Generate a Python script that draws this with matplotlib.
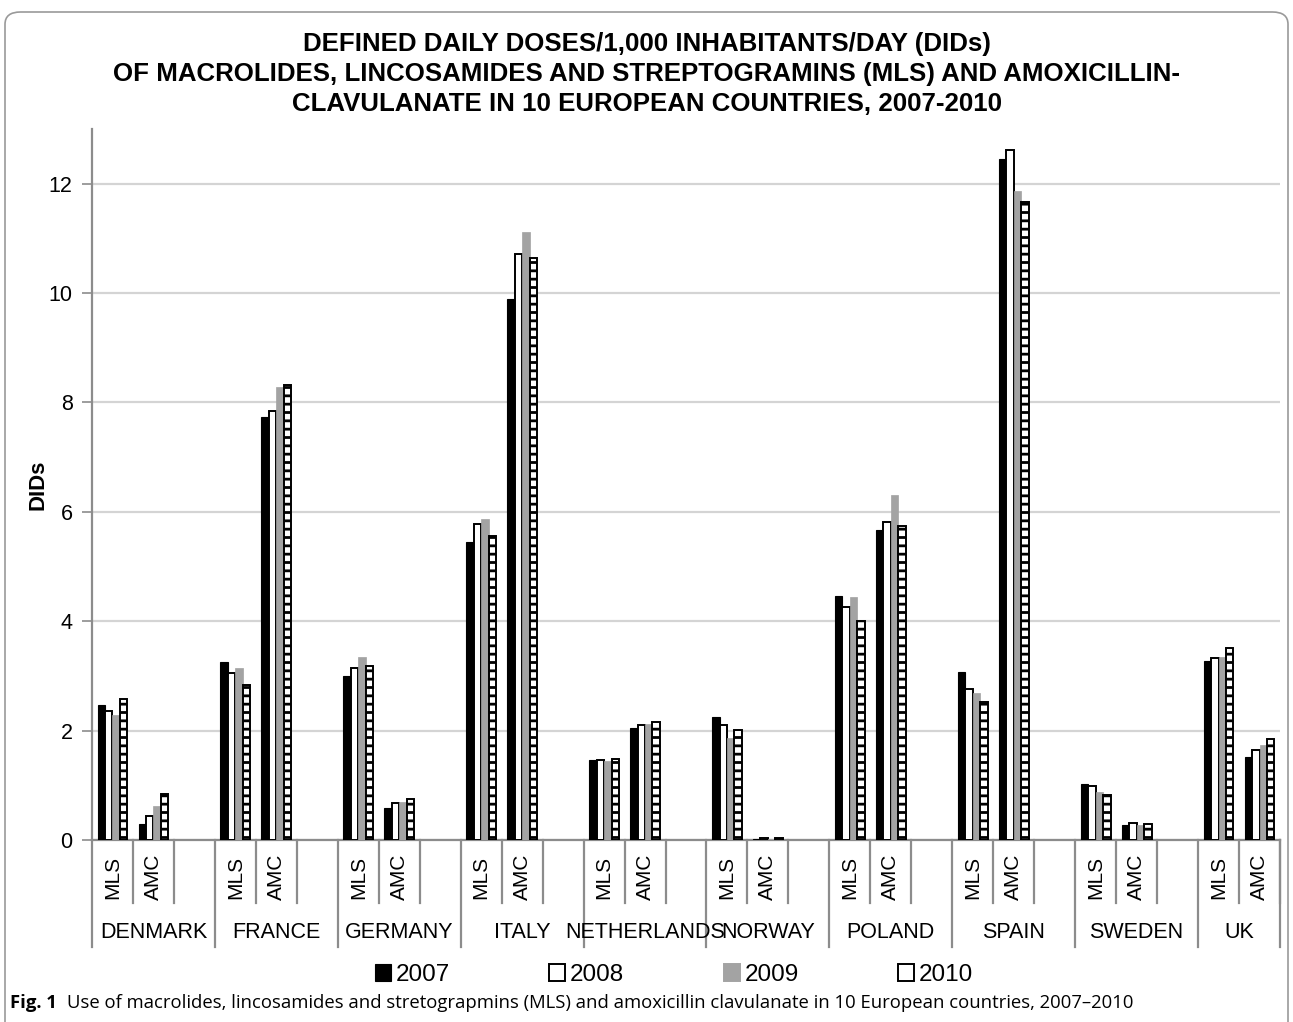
#!/usr/bin/env python3
"""DIDs of MLS and amoxicillin-clavulanate in 10 European countries, 2007-2010."""
import numpy as np
import matplotlib
matplotlib.use('Agg')
import matplotlib.pyplot as plt
from matplotlib.patches import FancyBboxPatch, Patch
import matplotlib.transforms as mtransforms

plt.rcParams['font.family'] = ['Liberation Sans', 'DejaVu Sans']
plt.rcParams['hatch.linewidth'] = 2.0

countries = ['DENMARK', 'FRANCE', 'GERMANY', 'ITALY', 'NETHERLANDS',
             'NORWAY', 'POLAND', 'SPAIN', 'SWEDEN', 'UK']
drugs = ['MLS', 'AMC']
years = ['2007', '2008', '2009', '2010']

# values per year: [MLS, AMC] for each country in order
mls_2007 = [2.47, 3.26, 2.99, 5.44, 1.46, 2.24, 4.47, 3.07, 1.02, 3.28]
mls_2008 = [2.35, 3.05, 3.14, 5.78, 1.46, 2.11, 4.26, 2.76, 0.98, 3.33]
mls_2009 = [2.29, 3.14, 3.35, 5.87, 1.45, 1.86, 4.45, 2.69, 0.87, 3.34]
mls_2010 = [2.58, 2.84, 3.19, 5.55, 1.48, 2.01, 4.01, 2.53, 0.83, 3.51]
amc_2007 = [0.29, 7.74, 0.59, 9.90, 2.05, 0.01, 5.67, 12.46, 0.28, 1.51]
amc_2008 = [0.43, 7.85, 0.67, 10.72, 2.11, 0.03, 5.82, 12.62, 0.31, 1.64]
amc_2009 = [0.62, 8.28, 0.69, 11.11, 2.12, 0.02, 6.31, 11.86, 0.27, 1.73]
amc_2010 = [0.84, 8.32, 0.75, 10.64, 2.16, 0.03, 5.74, 11.66, 0.29, 1.85]

mls = [mls_2007, mls_2008, mls_2009, mls_2010]
amc = [amc_2007, amc_2008, amc_2009, amc_2010]

W, H = 1293, 1022
fig = plt.figure(figsize=(W / 100, H / 100), dpi=100)
ax = fig.add_axes([92 / W, 1 - 840 / H, (1280 - 92) / W, (840 - 129) / H])

styles = [dict(color='black', edgecolor='black', linewidth=0.8),
          dict(color='white', edgecolor='black', linewidth=1.4),
          dict(color='#a3a3a3', edgecolor='#a3a3a3', linewidth=0.5),
          dict(color='white', edgecolor='black', linewidth=1.4, hatch='--')]

nslot = 3 * len(countries) - 1
bw = 0.182
for k in range(4):
    xs, vals = [], []
    for i in range(len(countries)):
        xs += [3 * i, 3 * i + 1]
        vals += [mls[k][i], amc[k][i]]
    ax.bar(np.array(xs) + (k - 1.5) * bw, vals, bw, zorder=3, **styles[k])

ax.set_xlim(-0.5, nslot - 0.5)
ax.set_ylim(0, 13)
ax.set_yticks(range(0, 13, 2))
ax.yaxis.grid(True, color='#d4d4d4', lw=1.6, zorder=0)
ax.tick_params(axis='y', labelsize=15.5, length=7, width=1.2, color='#8c8c8c', pad=7)
ax.set_xticks([])
for s in ['top', 'right']:
    ax.spines[s].set_visible(False)
for s in ['left', 'bottom']:
    ax.spines[s].set_color('#8c8c8c')
    ax.spines[s].set_linewidth(1.6)
ax.set_ylabel('DIDs', fontsize=16, fontweight='bold', labelpad=0)

# two-level category axis
tr = mtransforms.blended_transform_factory(ax.transData, ax.transAxes)
hpx = 840 - 129
short, long_ = 63 / hpx, 107 / hpx
for i, c in enumerate(countries):
    ax.plot([3 * i - 0.5] * 2, [0, -long_], transform=tr, clip_on=False,
            color='#8c8c8c', lw=1.6)
    for j, d in enumerate(drugs):
        ax.text(3 * i + j, -37 / hpx, d, transform=tr, rotation=90,
                ha='center', va='center', fontsize=15)
        ax.plot([3 * i + j + 0.5] * 2, [0, -short], transform=tr, clip_on=False,
                color='#8c8c8c', lw=1.6)
    cx = 3 * i + 1 if i < len(countries) - 1 else 3 * i + 0.5
    ax.text(cx, -92 / hpx, c, transform=tr, ha='center', va='center', fontsize=15.5)
ax.plot([nslot - 0.5] * 2, [0, -long_], transform=tr, clip_on=False,
        color='#8c8c8c', lw=1.6)

fig.text(0.5, 1 - 74 / H,
         'DEFINED DAILY DOSES/1,000 INHABITANTS/DAY (DIDs)\n'
         'OF MACROLIDES, LINCOSAMIDES AND STREPTOGRAMINS (MLS) AND AMOXICILLIN-\n'
         'CLAVULANATE IN 10 EUROPEAN COUNTRIES, 2007-2010',
         ha='center', va='center', fontsize=18.6, fontweight='bold', linespacing=1.3)

handles = [Patch(facecolor=st['color'], edgecolor=st['edgecolor'],
                 linewidth=1.4 if k else 0.8) for k, st in enumerate(styles)]
fig.legend(handles, years, loc='center', bbox_to_anchor=(674 / W, 1 - 975 / H),
           ncol=4, frameon=False, fontsize=17.5, handlelength=0.65, handleheight=0.65,
           handletextpad=0.2, columnspacing=4.1)

# caption
renderer = fig.canvas.get_renderer()
t1 = fig.text(10 / W, 1 - 1003 / H, 'Fig. 1', fontsize=13.3, fontweight='bold',
              family='Open Sans', va='center')
bb = t1.get_window_extent(renderer)
fig.text((bb.x1 + 10) / W, 1 - 1003 / H,
         'Use of macrolides, lincosamides and stretograpmins (MLS) and amoxicillin '
         'clavulanate in 10 European countries, 2007\u20132010',
         fontsize=13.3, family='Open Sans', va='center')

frame = FancyBboxPatch((5 / W, -0.05), 1283 / W, 1 - 12 / H + 0.05,
                       boxstyle='round,pad=0,rounding_size=0.012',
                       transform=fig.transFigure, facecolor='none',
                       edgecolor='#9a9a9a', lw=1.2)
fig.patches.append(frame)

fig.savefig('out.png', dpi=100)
